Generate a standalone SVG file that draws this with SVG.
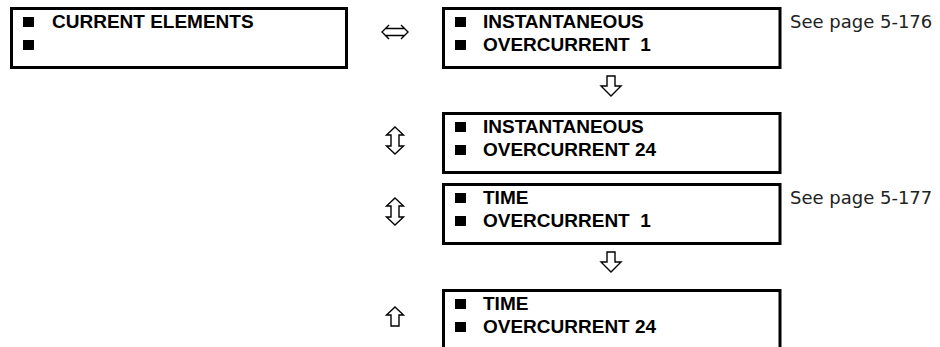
<svg xmlns="http://www.w3.org/2000/svg" width="940" height="347" viewBox="0 0 940 347">
<style>
.box{fill:#fff;stroke:#000;stroke-width:3}
.bul{fill:#000}
.t{font-family:"Liberation Sans",Arial,sans-serif;font-weight:bold;font-size:19px;fill:#000}
.ref{font-family:"DejaVu Sans",sans-serif;font-size:18px;fill:#222}
.arr{fill:#fff;stroke:#000;stroke-width:1.4;stroke-linejoin:miter}
.dbl{fill:none;stroke:#000;stroke-width:1.4}
</style>
<rect width="940" height="347" fill="#fff"/>
<g id="current-elements">
<rect class="box" x="11.5" y="8.5" width="335" height="59"/>
<rect class="bul" x="23" y="17" width="11" height="10"/>
<rect class="bul" x="23" y="40" width="11" height="10"/>
<text class="t" x="52" y="28">CURRENT ELEMENTS</text>
</g>
<g id="ioc1">
<rect class="box" x="443.5" y="8.5" width="336.5" height="59"/>
<rect class="bul" x="455" y="17" width="11" height="10"/>
<rect class="bul" x="455" y="40" width="11" height="10"/>
<text class="t" x="483" y="28">INSTANTANEOUS</text>
<text class="t" x="483" y="51" xml:space="preserve">OVERCURRENT  1</text>
<text class="ref" x="790" y="28">See page 5-176</text>
</g>
<g id="ioc24">
<rect class="box" x="443.5" y="113.5" width="336.5" height="59"/>
<rect class="bul" x="455" y="122" width="11" height="10"/>
<rect class="bul" x="455" y="145" width="11" height="10"/>
<text class="t" x="483" y="133">INSTANTANEOUS</text>
<text class="t" x="483" y="156">OVERCURRENT 24</text>
</g>
<g id="toc1">
<rect class="box" x="443.5" y="184.5" width="336.5" height="59"/>
<rect class="bul" x="455" y="193" width="11" height="10"/>
<rect class="bul" x="455" y="216" width="11" height="10"/>
<text class="t" x="483" y="204">TIME</text>
<text class="t" x="483" y="227" xml:space="preserve">OVERCURRENT  1</text>
<text class="ref" x="790" y="204">See page 5-177</text>
</g>
<g id="toc24">
<rect class="box" x="443.5" y="290.5" width="336.5" height="59"/>
<rect class="bul" x="455" y="299" width="11" height="10"/>
<rect class="bul" x="455" y="322" width="11" height="10"/>
<text class="t" x="483" y="310">TIME</text>
<text class="t" x="483" y="333">OVERCURRENT 24</text>
</g>
<g id="connectors">
<path class="dbl" d="M389,25 L382,32 L389,39 M401,25 L408,32 L401,39 M386,28.5 H404 M386,35.5 H404"/>
<path class="arr" d="M607,76 H615 V86 H621 L611,96 L601,86 H607 Z"/>
<path class="arr" d="M607,252 H615 V262 H621 L611,272 L601,262 H607 Z"/>
<path class="arr" d="M395,127 L403.5,135 H399 V146 H403.5 L395,154 L386.5,146 H391 V135 H386.5 Z"/>
<path class="arr" d="M395,198 L403.5,206 H399 V217 H403.5 L395,225 L386.5,217 H391 V206 H386.5 Z"/>
<path class="arr" d="M395,307 L403.5,315 H399 V326 H391 V315 H386.5 Z"/>
</g>
</svg>
